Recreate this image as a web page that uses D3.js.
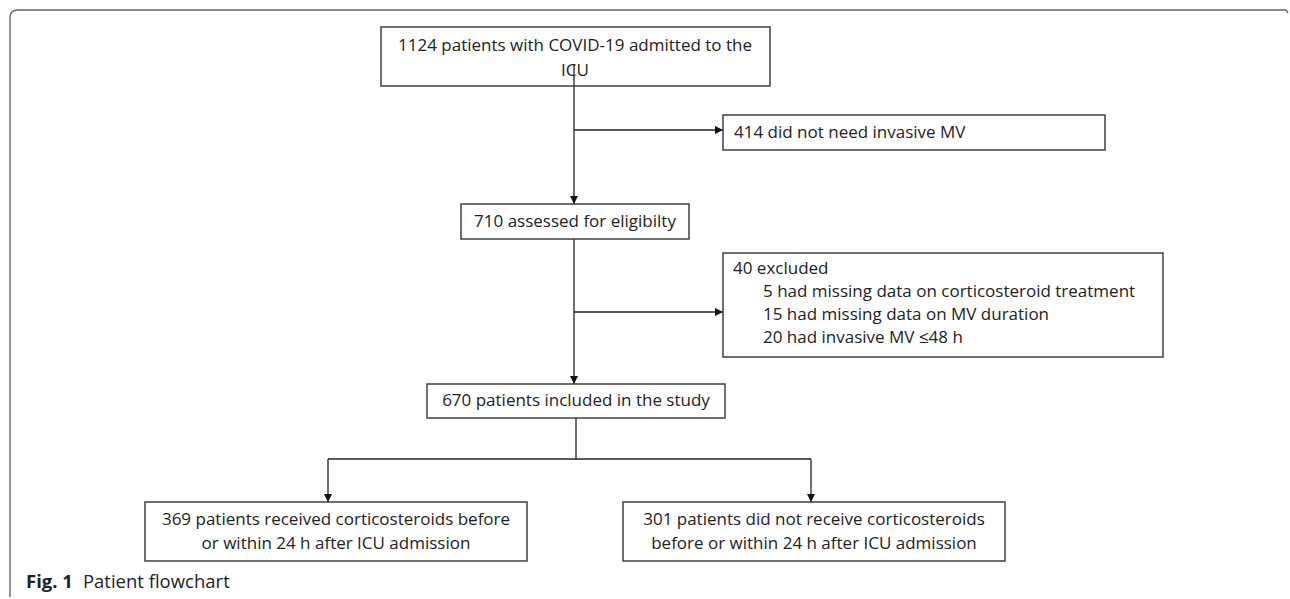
<!DOCTYPE html>
<html>
<head>
<meta charset="utf-8">
<script src="https://cdn.jsdelivr.net/npm/d3@7"></script>
<style>
  body { margin: 0; background: #fff; }
  svg text { font-family: "Open Sans", "Noto Sans", sans-serif; fill: #222; }
</style>
</head>
<body>
<svg id="chart"></svg>
<script>
// counts per step of the flowchart
const counts = [1124, 414, 710, 40, 670, 369, 301];
// box texts (one entry per line)
const boxLines = [
  ['1124 patients with COVID-19 admitted to the', 'ICU'],
  ['414 did not need invasive MV'],
  ['710 assessed for eligibilty'],
  ['40 excluded', '5 had missing data on corticosteroid treatment', '15 had missing data on MV duration', '20 had invasive MV \u226448 h'],
  ['670 patients included in the study'],
  ['369 patients received corticosteroids before', 'or within 24 h after ICU admission'],
  ['301 patients did not receive corticosteroids', 'before or within 24 h after ICU admission']
];
const captionBold = 'Fig. 1';
const captionText = 'Patient flowchart';

// Размеры
const width = 1290;
const height = 599;

const svg = d3.select('#chart')
  .attr('width', width)
  .attr('height', height);

svg.append('defs').append('marker')
  .attr('id', 'arr')
  .attr('viewBox', '0 0 10 10')
  .attr('refX', 10).attr('refY', 5)
  .attr('markerWidth', 9).attr('markerHeight', 8)
  .attr('markerUnits', 'userSpaceOnUse')
  .attr('orient', 'auto')
  .append('path')
  .attr('d', 'M0,0L10,5L0,10Z')
  .attr('fill', '#111');

// frame (top + left only, rounded corner)
svg.append('path')
  .attr('d', 'M10,597 L10,18 Q10,10 18,10 L1286,10 L1288,13')
  .attr('fill', 'none')
  .attr('stroke', '#666')
  .attr('stroke-width', 1.4);

// layout of the boxes: x, y, w, h, align, text x, line y's
const layout = [
  { x: 381, y: 27, w: 389, h: 59, align: 'middle', tx: 575, ty: [45, 70] },
  { x: 723, y: 115, w: 382, h: 35, align: 'start', tx: 734, ty: [132] },
  { x: 461, y: 204, w: 228, h: 35, align: 'middle', tx: 575, ty: [221] },
  { x: 723, y: 253, w: 440, h: 104, align: 'start', tx: [733, 763, 763, 763], ty: [268, 291, 314, 337] },
  { x: 427, y: 384, w: 298, h: 34, align: 'middle', tx: 576, ty: [400] },
  { x: 145, y: 502, w: 382, h: 59, align: 'middle', tx: 336, ty: [519, 543] },
  { x: 623, y: 502, w: 382, h: 59, align: 'middle', tx: 814, ty: [519, 543] }
];

// connector lines
const line = (pts, arrow) => {
  svg.append('path')
    .attr('d', d3.line()(pts))
    .attr('fill', 'none')
    .attr('stroke', '#222')
    .attr('stroke-width', 1.3)
    .attr('marker-end', arrow ? 'url(#arr)' : null);
};
line([[574, 64], [574, 204]], true);
line([[574, 130], [723, 130]], true);
line([[574, 239], [574, 384]], true);
line([[574, 312], [723, 312]], true);
line([[576, 418], [576, 459]], false);
line([[328, 459], [811, 459]], false);
line([[328, 459], [328, 502]], true);
line([[811, 459], [811, 502]], true);

// boxes
const boxes = svg.selectAll('g.box')
  .data(counts)
  .enter()
  .append('g')
  .attr('class', 'box');

boxes.append('rect')
  .attr('x', (d, i) => layout[i].x)
  .attr('y', (d, i) => layout[i].y)
  .attr('width', (d, i) => layout[i].w)
  .attr('height', (d, i) => layout[i].h)
  .attr('fill', 'none')
  .attr('stroke', '#333')
  .attr('stroke-width', 1.4);

boxes.each(function (d, i) {
  const L = layout[i];
  d3.select(this).selectAll('text')
    .data(boxLines[i])
    .enter()
    .append('text')
    .attr('x', (t, j) => Array.isArray(L.tx) ? L.tx[j] : L.tx)
    .attr('y', (t, j) => L.ty[j])
    .attr('dy', '0.35em')
    .attr('text-anchor', L.align)
    .style('font-size', '17px')
    .text(t => t);
});

// caption
const cap = svg.append('text')
  .attr('x', 26)
  .attr('y', 582)
  .attr('dy', '0.35em')
  .style('font-size', '18.5px');
cap.append('tspan').style('font-weight', 'bold').text(captionBold);
cap.append('tspan').attr('dx', 10).text(captionText);
</script>
</body>
</html>
